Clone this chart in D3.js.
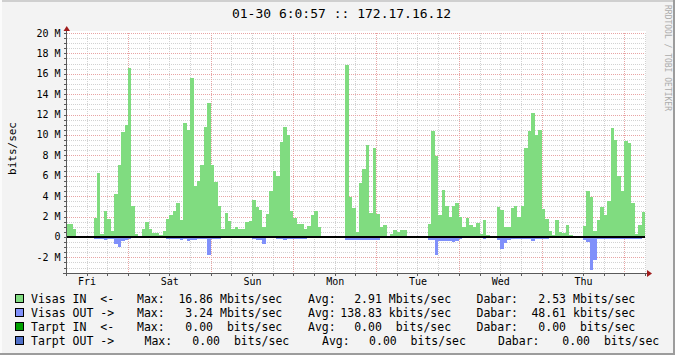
<!DOCTYPE html>
<html>
<head>
<meta charset="utf-8">
<script src="https://cdn.jsdelivr.net/npm/d3@7"></script>
<style>
  body { margin: 0; background: #f3f3f3; }
  svg { display: block; }
</style>
</head>
<body>
<div id="chart"></div>
<script>
var W = 675, H = 355;

// time window of the graph (one week, hourly averages)
var START = new Date(2015, 0, 23, 6, 0, 57);
var END = new Date(2015, 0, 30, 6, 0, 57);

// Visas IN, Mbits/sec, one value per hour from START
var visasIn = [
  1.3, 1.3, 0.8, 0, 0, 0, 0, 0, 1.9, 6.3, 0.3, 2.5,
  1.8, 0.55, 4.2, 7.1, 10.3, 11.0, 16.6, 3.0, 0.3, 0.1, 0.8, 1.5,
  0.8, 0.4, 0.35, 0.2, 0.6, 1.8, 2.2, 2.5, 3.3, 1.7, 11.2, 10.5,
  15.6, 5.0, 5.5, 7.1, 10.8, 13.1, 7.1, 5.4, 3.0, 0.8, 2.4, 1.55,
  0.8, 1.0, 0.8, 0.8, 1.45, 1.55, 3.6, 2.9, 2.6, 1.0, 2.25, 4.5,
  6.5, 6.0, 9.3, 10.8, 10.0, 2.5, 1.9, 1.3, 1.3, 0.8, 1.1, 2.2,
  2.55, 1.0, 0.1, 0, 0, 0, 0, 0, 0, 16.86, 3.9, 2.85,
  0.5, 5.3, 6.7, 9.0, 2.35, 8.7, 2.3, 1.0, 1.2, 0, 0.3, 0.7,
  0.5, 0.65, 0.7, 0, 0, 0, 0, 0, 0, 1.27, 10.4, 7.9,
  2.15, 4.6, 3.0, 2.0, 3.0, 3.3, 1.95, 1.0, 1.9, 1.2, 0.95, 1.4,
  0.3, 1.65, 0.2, 0, 0, 2.9, 2.65, 1.0, 1.0, 2.8, 3.0, 2.0,
  3.0, 8.7, 10.4, 12.2, 10.0, 10.5, 2.7, 1.75, 0.6, 0.2, 1.65, 0.5,
  0.4, 1.2, 0.2, 0, 0, 0, 1.1, 4.5, 3.9, 0.6, 1.65, 2.95,
  2.15, 3.5, 10.7, 9.5, 6.0, 4.5, 9.4, 9.2, 3.35, 0.25, 1.2, 2.45
];

// Visas OUT, Mbits/sec (drawn below zero)
var visasOut = [
  0, 0, 0, 0, 0, 0, 0, 0, 0.2, 0.2, 0.2, 0.3,
  0.2, 0.2, 0.7, 1.0, 0.4, 0.3, 0.2, 0.1, 0, 0, 0, 0,
  0, 0, 0, 0, 0, 0.2, 0.2, 0.2, 0.2, 0.3, 0.2, 0.4,
  0.3, 0.3, 0.2, 0.2, 0.2, 1.8, 0.2, 0.2, 0.2, 0, 0, 0,
  0, 0, 0, 0, 0, 0, 0.2, 0.25, 0.3, 0.7, 0, 0,
  0.1, 0.2, 0.2, 0.3, 0.2, 0.2, 0.2, 0.2, 0.2, 0.2, 0, 0,
  0, 0, 0, 0, 0, 0, 0, 0, 0, 0.25, 0.25, 0.25,
  0.25, 0.25, 0.25, 0.25, 0.25, 0.25, 0.25, 0, 0, 0, 0, 0,
  0, 0, 0, 0, 0, 0, 0, 0, 0, 0.3, 0.3, 1.75,
  0.4, 0.4, 0.4, 0.4, 0.5, 0.4, 0.2, 0, 0, 0, 0, 0,
  0, 0.2, 0, 0, 0, 0.3, 1.2, 0.6, 0.3, 0.2, 0.2, 0.2,
  0.2, 0.2, 0.2, 0.4, 0.2, 0.2, 0.2, 0.2, 0, 0, 0, 0,
  0, 0, 0, 0, 0, 0, 0.3, 0.5, 3.24, 2.25, 0.2, 0.2,
  0.2, 0.2, 0.2, 0.2, 0.2, 0.2, 0.2, 0.2, 0.2, 0.2, 0.2, 0.1
];

var yLabelValues = [-2, 0, 2, 4, 6, 8, 10, 12, 14, 16, 18, 20];

// legend
var legendNames = ["Visas IN  <-", "Visas OUT ->", "Tarpt IN  <-", "Tarpt OUT ->"];
var legendColors = ["#80dc80", "#8090fa", "#00a000", "#5070c8"];
var legendMax = [" 16.86 Mbits/sec", "  3.24 Mbits/sec", "  0.00  bits/sec", "  0.00  bits/sec"];
var legendAvg = ["  2.91 Mbits/sec", "138.83 kbits/sec", "  0.00  bits/sec", "  0.00  bits/sec"];
var legendDabar = ["  2.53 Mbits/sec", " 48.61 kbits/sec", "  0.00  bits/sec", "  0.00  bits/sec"];

var MONO = "'DejaVu Sans Mono', monospace";
var plot = {left: 67, right: 646, top: 31, bottom: 273};

var svg = d3.select("#chart").append("svg")
    .attr("width", W)
    .attr("height", H);

// background + 3d frame
svg.append("rect").attr("width", W).attr("height", H).attr("fill", "#f3f3f3");
svg.append("rect").attr("x", 0).attr("y", 0).attr("width", W).attr("height", 2).attr("fill", "#cfcfcf");
svg.append("rect").attr("x", 0).attr("y", 0).attr("width", 2).attr("height", H).attr("fill", "#fbfbfb");
svg.append("rect").attr("x", 0).attr("y", H - 2).attr("width", W).attr("height", 2).attr("fill", "#9c9c9c");
svg.append("rect").attr("x", W - 2).attr("y", 0).attr("width", 2).attr("height", H).attr("fill", "#9c9c9c");

// canvas
svg.append("rect")
    .attr("x", plot.left).attr("y", plot.top)
    .attr("width", plot.right - plot.left).attr("height", plot.bottom - plot.top)
    .attr("fill", "#ffffff");

var x = d3.scaleTime().domain([START, END]).range([66, 645]);
var y = d3.scaleLinear().domain([-3.53, 20]).range([273, 33]);

function snap(v) { return Math.round(v) + 0.5; }

// grid
var grid = svg.append("g").attr("shape-rendering", "crispEdges");

var minorY = d3.range(-3.5, 20.01, 0.5).filter(function(v) { return Math.abs(v % 2) > 0.01; });
grid.selectAll(".hmin").data(minorY).enter().append("line")
    .attr("x1", plot.left).attr("x2", 645)
    .attr("y1", function(d) { return snap(y(d)); })
    .attr("y2", function(d) { return snap(y(d)); })
    .attr("stroke", "#d2d2d2").attr("stroke-dasharray", "1,1");

var sixHours = d3.timeHour.every(6).range(START, END).filter(function(d) { return d.getHours() !== 0; });
grid.selectAll(".vmin").data(sixHours).enter().append("line")
    .attr("x1", function(d) { return snap(x(d)); })
    .attr("x2", function(d) { return snap(x(d)); })
    .attr("y1", y(20)).attr("y2", plot.bottom)
    .attr("stroke", "#d2d2d2").attr("stroke-dasharray", "1,1");

grid.selectAll(".hmaj").data(yLabelValues).enter().append("line")
    .attr("x1", plot.left).attr("x2", 645)
    .attr("y1", function(d) { return snap(y(d)); })
    .attr("y2", function(d) { return snap(y(d)); })
    .attr("stroke", "#e8a4a4").attr("stroke-dasharray", "1,1");

var midnights = d3.timeDay.range(START, END);
grid.selectAll(".vmaj").data(midnights).enter().append("line")
    .attr("x1", function(d) { return snap(x(d)); })
    .attr("x2", function(d) { return snap(x(d)); })
    .attr("y1", y(20)).attr("y2", plot.bottom)
    .attr("stroke", "#e8a4a4").attr("stroke-dasharray", "1,1");

// data
function series(vals, sign) {
  var pts = vals.map(function(v, i) { return {t: d3.timeHour.offset(START, i), v: sign * v}; });
  pts.push({t: END, v: sign * vals[vals.length - 1]});
  return pts;
}

var area = d3.area()
    .curve(d3.curveStepAfter)
    .x(function(d) { return x(d.t); })
    .y0(y(0))
    .y1(function(d) { return y(d.v); });

svg.append("path")
    .datum(series(visasIn, 1))
    .attr("d", area)
    .attr("fill", legendColors[0])
    .attr("shape-rendering", "crispEdges");

svg.append("path")
    .datum(series(visasOut, -1))
    .attr("d", area)
    .attr("fill", legendColors[1])
    .attr("shape-rendering", "crispEdges");

// zero rule
svg.append("line")
    .attr("x1", plot.left).attr("x2", 645)
    .attr("y1", Math.round(y(0))).attr("y2", Math.round(y(0)))
    .attr("stroke", "#000").attr("stroke-width", 2)
    .attr("shape-rendering", "crispEdges");

// axes
var axes = svg.append("g").attr("shape-rendering", "crispEdges").attr("stroke", "#5a5a5a");
axes.append("line").attr("x1", 66.5).attr("x2", 66.5).attr("y1", 276).attr("y2", 31);
axes.append("line").attr("x1", 63).attr("x2", 648).attr("y1", 273.5).attr("y2", 273.5);

axes.selectAll(".yt").data(minorY.concat(yLabelValues)).enter().append("line")
    .attr("x1", 64).attr("x2", 66)
    .attr("y1", function(d) { return snap(y(d)); })
    .attr("y2", function(d) { return snap(y(d)); });
axes.selectAll(".xt").data(sixHours.concat(midnights)).enter().append("line")
    .attr("x1", function(d) { return snap(x(d)); })
    .attr("x2", function(d) { return snap(x(d)); })
    .attr("y1", 274).attr("y2", 276);

svg.append("path").attr("d", "M63.5,31L66.75,26L70,31Z").attr("fill", "#a01c1c");
svg.append("path").attr("d", "M647,270L652,273.5L647,277Z").attr("fill", "#a01c1c");

// y labels
svg.selectAll(".ylab").data(yLabelValues).enter().append("text")
    .attr("x", 60.5)
    .attr("y", function(d) { return y(d) + 3.5; })
    .attr("text-anchor", "end")
    .attr("font-family", MONO).attr("font-size", 10).attr("fill", "#000")
    .text(function(d) { return d === 0 ? "0" : d + " M"; });

// x labels at noon
var noons = midnights.map(function(d) { return d3.timeHour.offset(d, -12); })
    .concat([d3.timeHour.offset(midnights[midnights.length - 1], 12)])
    .filter(function(d) { return d > START && d < END; });
svg.selectAll(".xlab").data(noons).enter().append("text")
    .attr("x", function(d) { return x(d) + 0.5; })
    .attr("y", 285)
    .attr("text-anchor", "middle")
    .attr("font-family", MONO).attr("font-size", 10).attr("fill", "#000")
    .text(d3.timeFormat("%a"));

// y axis title
svg.append("text")
    .attr("transform", "translate(15.5,148.5) rotate(-90)")
    .attr("text-anchor", "middle")
    .attr("font-family", MONO).attr("font-size", 11).attr("fill", "#000")
    .text("bits/sec");

// title
svg.append("text")
    .attr("x", 341.5).attr("y", 18)
    .attr("text-anchor", "middle")
    .attr("font-family", MONO).attr("font-size", 13).attr("fill", "#000")
    .text("01-30 6:0:57 :: 172.17.16.12");

// watermark
svg.append("text")
    .attr("transform", "translate(664.5,5) rotate(90)")
    .attr("font-family", MONO).attr("font-size", 8).attr("fill", "#ababab")
    .text("RRDTOOL / TOBI OETIKER");

// legend
var colX = [
  [31, 137, 171.5, 308, 340.3, 476.5, 524.5],
  [31, 137, 171.5, 308, 340.3, 476.5, 524.5],
  [31, 137, 171.5, 308, 340.3, 476.5, 524.5],
  [31, 144.5, 178.5, 322, 355.2, 498, 548.5]
];
var legend = svg.append("g")
    .attr("font-family", MONO).attr("font-size", 11.5).attr("fill", "#000")
    .style("white-space", "pre");

legendNames.forEach(function(name, i) {
  var base = 303 + i * 14;
  legend.append("rect")
      .attr("x", 15.5).attr("y", base - 8.5).attr("width", 8).attr("height", 8)
      .attr("fill", legendColors[i]).attr("stroke", "#000").attr("stroke-width", 1)
      .attr("shape-rendering", "crispEdges");
  var parts = [name, "Max:", legendMax[i], "Avg:", legendAvg[i], "Dabar:", legendDabar[i]];
  parts.forEach(function(p, j) {
    legend.append("text")
        .attr("x", colX[i][j]).attr("y", base)
        .attr("xml:space", "preserve")
        .text(p);
  });
});
</script>
</body>
</html>
